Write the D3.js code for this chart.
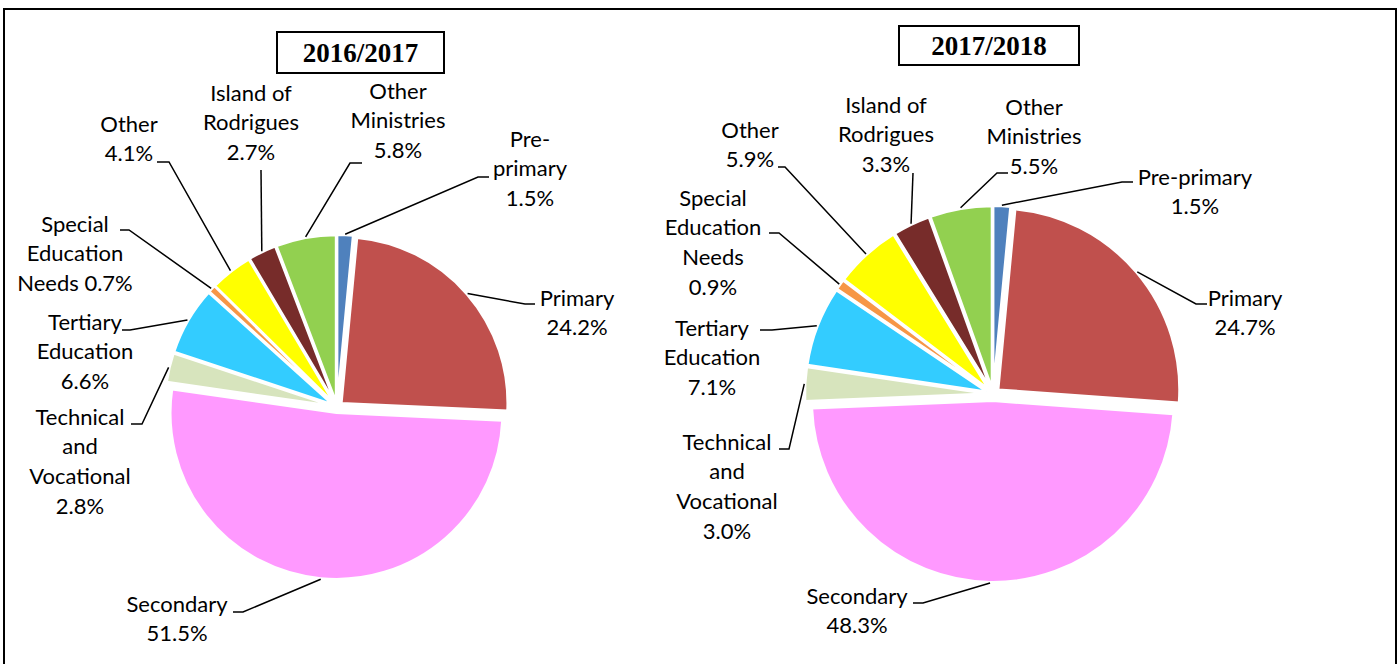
<!DOCTYPE html>
<html><head><meta charset="utf-8">
<script src="https://cdn.jsdelivr.net/npm/d3@7"></script>
<style>
html,body{margin:0;padding:0;background:#fff;}
svg{display:block;}
</style></head>
<body>
<svg id="chart" width="1400" height="664"></svg>
<script>
const categories = ["Pre-primary","Primary","Secondary","Technical and Vocational","Tertiary Education","Special Education Needs","Other","Island of Rodrigues","Other Ministries"];
const values2016 = [1.5,24.2,51.5,2.8,6.6,0.7,4.1,2.7,5.8];
const values2018 = [1.5,24.7,48.3,3.0,7.1,0.9,5.9,3.3,5.5];
const titles = ["2016/2017","2017/2018"];
const colors = ["#4F81BD","#C0504D","#FF99FF","#D7E4BD","#33CCFF","#F79646","#FFFF00","#772C2A","#92D050"];

// label layouts (text lines, first-line centre, leader elbow, horizontal end)
const layout2016 = [
  {lines:["Pre-","primary","{v}"], x:530, y:139, ex:478, ey:177, hx:489},
  {lines:["Primary","{v}"], x:577, y:298, ex:525, ey:304, hx:535},
  {lines:["Secondary","{v}"], x:177, y:604, ex:243, ey:612, hx:233},
  {lines:["Technical","and","Vocational","{v}"], x:80, y:417, ex:142, ey:424, hx:131},
  {lines:["Tertiary","Education","{v}"], x:85, y:322, ex:130, ey:330, hx:122},
  {lines:["Special","Education","Needs {v}"], x:75, y:224, ex:129, ey:230, hx:120},
  {lines:["Other","{v}"], x:129, y:124, ex:169, ey:162, hx:157},
  {lines:["Island of","Rodrigues","{v}"], x:251, y:93, ex:261, ey:170, hx:null},
  {lines:["Other","Ministries","{v}"], x:398, y:91, ex:350, ey:163, hx:362}
];
const layout2018 = [
  {lines:["Pre-primary","{v}"], x:1195, y:177, ex:1122, ey:182, hx:1133},
  {lines:["Primary","{v}"], x:1245, y:298, ex:1196, ey:304, hx:1207},
  {lines:["Secondary","{v}"], x:857, y:596, ex:923, ey:603, hx:913},
  {lines:["Technical","and","Vocational","{v}"], x:727, y:442, ex:789, ey:449, hx:779},
  {lines:["Tertiary","Education","{v}"], x:712, y:328, ex:772, ey:330, hx:760},
  {lines:["Special","Education","Needs","{v}"], x:713, y:198, ex:779, ey:233, hx:769},
  {lines:["Other","{v}"], x:750, y:130, ex:785, ey:167, hx:778},
  {lines:["Island of","Rodrigues","{v}"], x:886, y:105, ex:913, ey:173, hx:null},
  {lines:["Other","Ministries","{v}"], x:1034, y:107, ex:997, ey:173, hx:1008}
];

const pies = [
  {values:values2016, layout:layout2016, title:titles[0], cx:337, cy:407, r:166, explode:6, box:[277,32,167,41]},
  {values:values2018, layout:layout2018, title:titles[1], cx:993, cy:394, r:181, explode:7, box:[899,26,180,39]}
];

const svg = d3.select("#chart");
svg.append("rect").attr("x",4).attr("y",9).attr("width",1392).attr("height",700)
  .attr("fill","none").attr("stroke","#000").attr("stroke-width",2);

const pieGen = d3.pie().sort(null).value(d=>d.v);
const LH = 29.6;

pies.forEach(p=>{
  const data = categories.map((c,i)=>({c, v:p.values[i], i}));
  const arcs = pieGen(data);
  const arc = d3.arc().innerRadius(0).outerRadius(p.r);
  const g = svg.append("g").attr("transform",`translate(${p.cx},${p.cy})`);
  arcs.forEach(a=>{
    const mid = (a.startAngle+a.endAngle)/2;
    const dx = Math.sin(mid)*p.explode, dy = -Math.cos(mid)*p.explode;
    g.append("path").attr("d",arc(a)).attr("transform",`translate(${dx},${dy})`)
      .attr("fill",colors[a.data.i]).attr("stroke","#fff").attr("stroke-width",2.2).attr("stroke-linejoin","miter");
  });
  // leaders and labels
  arcs.forEach(a=>{
    const L = p.layout[a.data.i];
    const mid = (a.startAngle+a.endAngle)/2;
    const rr = p.r + p.explode + 1;
    const sx = p.cx + Math.sin(mid)*rr, sy = p.cy - Math.cos(mid)*rr;
    const pts = [[sx,sy],[L.ex,L.ey]];
    if (L.hx !== null) pts.push([L.hx,L.ey]);
    svg.append("path").attr("d",d3.line()(pts)).attr("fill","none").attr("stroke","#000").attr("stroke-width",1.5);
    const t = svg.append("text").attr("x",L.x).attr("y",L.y).attr("text-anchor","middle")
      .attr("font-family","Lato, 'Open Sans', sans-serif").attr("font-size",22).attr("fill","#000");
    L.lines.forEach((ln,k)=>{
      t.append("tspan").attr("x",L.x).attr("y",L.y + k*LH).attr("dy","0.35em")
        .text(ln.replace("{v}", a.data.v.toFixed(1)+"%"));
    });
  });
  // title box
  svg.append("rect").attr("x",p.box[0]).attr("y",p.box[1]).attr("width",p.box[2]).attr("height",p.box[3])
    .attr("fill","#fff").attr("stroke","#000").attr("stroke-width",2);
  svg.append("text").attr("x",p.box[0]+p.box[2]/2).attr("y",p.box[1]+p.box[3]/2).attr("dy","0.36em")
    .attr("text-anchor","middle").attr("font-family","'Liberation Serif','Times New Roman',serif")
    .attr("font-weight","bold").attr("font-size",27).text(p.title);
});
</script>
</body></html>
